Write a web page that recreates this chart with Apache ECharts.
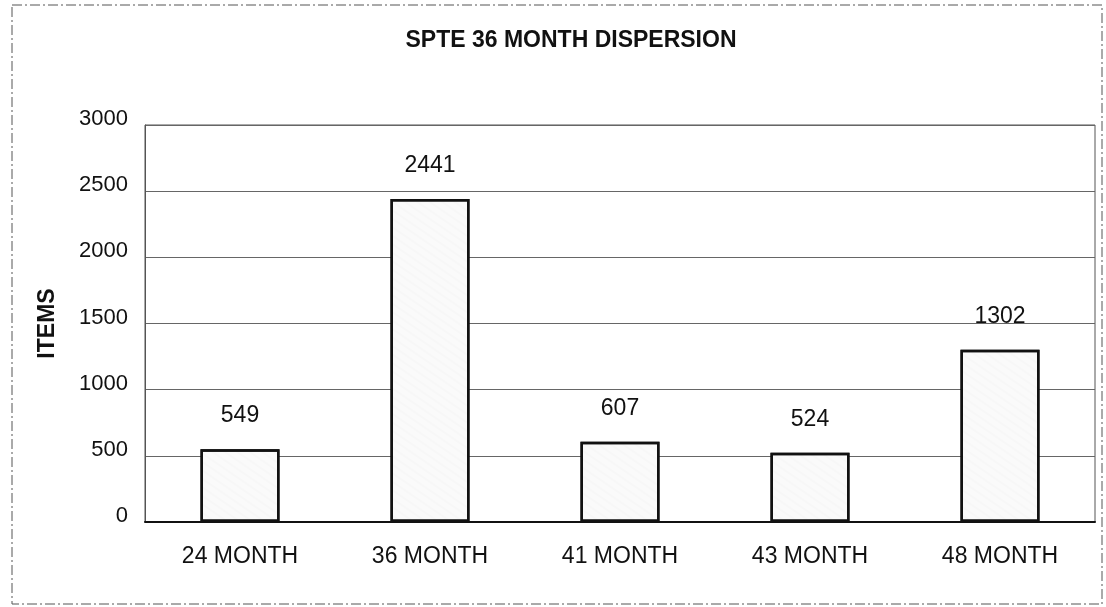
<!DOCTYPE html>
<html>
<head>
<meta charset="utf-8">
<script src="https://cdn.jsdelivr.net/npm/echarts@6/dist/echarts.min.js"></script>
<style>
  html, body { margin: 0; padding: 0; background: #fff; }
  #chart { width: 1106px; height: 607px; }
</style>
</head>
<body>
<div id="chart"></div>
<script>
// data
const categories = ["24 MONTH", "36 MONTH", "41 MONTH", "43 MONTH", "48 MONTH"];
const items = [549, 2441, 607, 524, 1302];

const chart = echarts.init(document.getElementById("chart"), null, { renderer: "canvas" });

chart.setOption({
  backgroundColor: "#fff",
  animation: false,
  aria: { enabled: true, decal: { show: true } },
  textStyle: { fontFamily: "Liberation Sans, Arial, sans-serif" },
  title: {
    text: "SPTE 36 MONTH DISPERSION",
    left: 566,
    top: 24,
    textAlign: "center",
    textStyle: { fontSize: 23, fontWeight: "bold", color: "#111" },
  },
  graphic: [
    {
      type: "rect",
      shape: { x: 12, y: 5, width: 1090, height: 599 },
      style: { fill: "none", stroke: "#555", lineWidth: 1, lineDash: [10, 3, 2, 3] },
      silent: true,
    },
  ],
  grid: {
    left: 145,
    right: 11,
    top: 125,
    bottom: 85,
    show: true,
    borderColor: "#555",
    borderWidth: 1,
  },
  xAxis: {
    type: "category",
    data: categories,
    axisLine: { lineStyle: { color: "#111", width: 2 } },
    axisTick: { show: false },
    axisLabel: { fontSize: 23, color: "#111", margin: 23 },
  },
  yAxis: {
    type: "value",
    name: "ITEMS",
    nameLocation: "middle",
    nameGap: 86,
    nameRotate: 90,
    nameTextStyle: { fontSize: 23, fontWeight: "bold", color: "#111" },
    min: 0,
    max: 3000,
    interval: 500,
    axisLine: { show: true, lineStyle: { color: "#555", width: 1 } },
    axisTick: { show: false },
    axisLabel: {
      color: "#111",
      margin: 17,
      formatter: (v) => "{a|" + v + "}",
      rich: { a: { fontSize: 22, color: "#111", padding: [0, 0, 12, 0] } },
    },
    splitLine: { lineStyle: { color: "#666", width: 1 } },
  },
  series: [
    {
      type: "bar",
      data: items,
      barWidth: 79,
      itemStyle: {
        color: "#fafafa",
        borderColor: "#111",
        borderWidth: 2.5,
        decal: {
          symbol: "circle",
          symbolSize: 0.3,
          color: "rgba(110,110,110,0.5)",
          dashArrayX: [[1, 0], [1, 0]],
          dashArrayY: [2, 5],
          rotation: 0.6,
        },
      },
      label: {
        show: true,
        position: "top",
        distance: 22,
        fontSize: 23,
        color: "#111",
      },
    },
  ],
});
</script>
</body>
</html>
